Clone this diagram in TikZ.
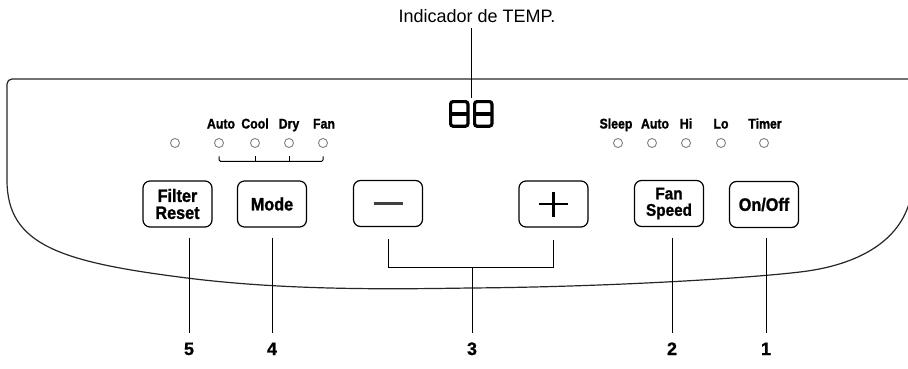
\documentclass[tikz,border=0pt]{standalone}
\usepackage{fontspec}
\setmainfont{Liberation Sans}
\newfontfamily\btnfont[FakeStretch=0.9,FakeBold=1.2]{Liberation Sans}
\newfontfamily\ledfont[FakeStretch=0.88,FakeBold=1.2]{Liberation Sans}
\newfontfamily\numfont[FakeBold=0.8]{Liberation Sans}
\begin{document}
\begin{tikzpicture}[x=1pt,y=-1pt,
  btn/.style={draw, line width=1.2pt, rounded corners=7pt, minimum width=69pt,
    minimum height=46pt, inner sep=0pt, align=center,
    font=\btnfont\bfseries\fontsize{18}{18}\selectfont},
  led/.style={circle, draw=black!50, line width=0.9pt, minimum size=9pt, inner sep=0pt},
  lbl/.style={anchor=base, inner sep=0pt, font=\ledfont\bfseries\fontsize{14}{14}\selectfont},
  num/.style={anchor=base, inner sep=0pt, font=\numfont\bfseries\fontsize{18}{18}\selectfont},
  lead/.style={line width=1pt},
  panel/.style={line width=1.2pt, black!85},
  seg/.style={line width=3.2pt, rounded corners=2.5pt},
  ]
\useasboundingbox (0,0) rectangle (908,368);

% panel outline
\draw[panel] (914,79) [rounded corners=5pt] -- (7,79) -- (7,175) [sharp corners]
  .. controls (7,245) and (60,262) .. (187,278)
  .. controls (290,291) and (400,289) .. (470,288)
  .. controls (600,287) and (740,279) .. (800,272)
  .. controls (860,265) and (900,240) .. (910,200);

% temperature display
\foreach \x in {449,473}{
  \draw[seg] (\x+1.6,101.6) rectangle (\x+18.9,126.2);
  \draw[line width=3.2pt] (\x+1.6,113.9) -- (\x+18.9,113.9);
}
\coordinate (disp) at (471,98);
\node[anchor=base, inner sep=0pt, font=\fontsize{18}{18}\selectfont] (tempind) at (477,22) {Indicador de TEMP.};
\draw[lead] ([yshift=-6pt]disp |- tempind.south) -- (disp);

% LEDs
\node[led] (fl) at (175,143) {};
\node[led] (m1) at (219,143) {};
\node[led] (m2) at (255,143) {};
\node[led] (m3) at (289,143) {};
\node[led] (m4) at (323,143) {};
\node[led] (s1) at (618,143) {};
\node[led] (s2) at (652,143) {};
\node[led] (s3) at (686,143) {};
\node[led] (s4) at (721,143) {};
\node[led] (s5) at (764,143) {};

% LED labels
\node[lbl] (lm1) at (221,128.5) {Auto};
\node[lbl] (lm2) at (255,128.5) {Cool};
\node[lbl] (lm3) at (289,128.5) {Dry};
\node[lbl] (lm4) at (324,128.5) {Fan};
\node[lbl] (ls1) at (616,128.5) {Sleep};
\node[lbl] (ls2) at (655,128.5) {Auto};
\node[lbl] (ls3) at (686,128.5) {Hi};
\node[lbl] (ls4) at (721,128.5) {Lo};
\node[lbl] (ls5) at (765,128.5) {Timer};

% mode bracket
\draw[lead, rounded corners=1.5pt] ([yshift=-8.5pt]m1.south) |- ([yshift=-13.5pt]m4.south) -- ([yshift=-8.5pt]m4.south);
\draw[lead] ([yshift=-8.5pt]m2.south) -- ([yshift=-13.5pt]m2.south);
\draw[lead] ([yshift=-8.5pt]m3.south) -- ([yshift=-13.5pt]m3.south);

% buttons
\node[btn, font=\btnfont\bfseries\fontsize{18}{17}\selectfont] (fr) at (177.5,204) {Filter\\Reset};
\node[btn] (mode) at (272,204) {Mode};
\node[btn] (minus) at (388,203.5) {};
\node[btn] (plus) at (553.5,204) {};
\node[btn, font=\btnfont\bfseries\fontsize{17}{16.5}\selectfont] (fan) at (669,203.5) {Fan\\Speed};
\node[btn] (onoff) at (764,204.5) {On/Off};
\draw[line width=3pt, black!75] ([xshift=-14.5pt]minus.center) -- ([xshift=14.5pt]minus.center);
\draw[line width=2.5pt] ([xshift=-14.5pt]plus.center) -- ([xshift=14.5pt]plus.center);
\draw[line width=2.5pt] ([yshift=12.5pt]plus.center) -- ([yshift=-12.5pt]plus.center);

% numbers
\node[num] (n5) at (189,355) {5};
\node[num] (n4) at (272,355) {4};
\node[num] (n3) at (472,355) {3};
\node[num] (n2) at (672,355) {2};
\node[num] (n1) at (766,355) {1};

% leaders
\draw[lead] ([yshift=-10pt]n5 |- fr.south) -- ([yshift=9pt]n5.north);
\draw[lead] ([yshift=-10pt]n4 |- mode.south) -- ([yshift=9pt]n4.north);
\draw[lead] ([yshift=-10pt]n2 |- onoff.south) -- ([yshift=9pt]n2.north);
\draw[lead] ([yshift=-10pt]n1 |- onoff.south) -- ([yshift=9pt]n1.north);
\draw[lead] ([yshift=-12pt]minus.south) |- ([yshift=-40pt]plus.south) -- ([yshift=-12pt]plus.south);
\draw[lead] ([yshift=-40pt]n3 |- plus.south) -- ([yshift=9pt]n3.north);
\end{tikzpicture}
\end{document}
